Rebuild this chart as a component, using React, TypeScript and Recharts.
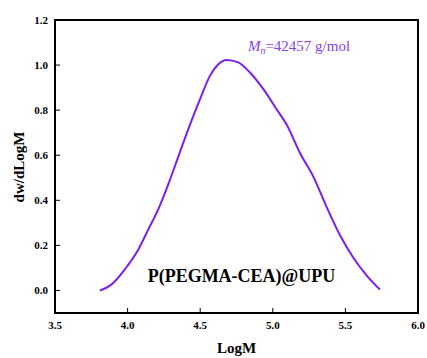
import { LineChart, Line, XAxis, YAxis, ReferenceLine } from "recharts";

// GPC molecular weight distribution
const LOG_M = [
  3.81, 3.89, 3.98, 4.074, 4.143, 4.211, 4.28, 4.35, 4.418, 4.499, 4.567,
  4.625, 4.682, 4.762, 4.843, 4.935, 5.026, 5.096, 5.187, 5.279, 5.371, 5.463,
  5.555, 5.647, 5.738,
];
const DW = [
  0.0, 0.027, 0.093, 0.182, 0.271, 0.36, 0.471, 0.595, 0.716, 0.849, 0.952,
  1.004, 1.023, 1.012, 0.967, 0.893, 0.804, 0.735, 0.61, 0.505, 0.37, 0.245,
  0.145, 0.066, 0.004,
];
const X_TICKS = [3.5, 4.0, 4.5, 5.0, 5.5, 6.0];
const Y_TICKS = [0.0, 0.2, 0.4, 0.6, 0.8, 1.0, 1.2];

const FONT = "'Liberation Serif', 'Times New Roman', serif";
const LINE_COLOR = "#7a1ff0";
const TEXT_PURPLE = "#8a3fe8";

const data = LOG_M.map((x, i) => ({ x, y: DW[i] }));

// kept at module level so their identity never changes between renders
const TICK_STYLE = { fontSize: 11, fill: "#000", fontWeight: "bold", fontFamily: FONT };
const oneDecimal = (v: number) => v.toFixed(1);

// plot box, matches the chart margins / axis sizes below
const PLOT = { left: 55, top: 20, right: 418, bottom: 313 };

export default function App() {
  return (
    <div
      style={{ position: "absolute", left: 0, top: 0, width: 427, height: 358, background: "#fff" }}
    >
      <LineChart
        width={427}
        height={358}
        data={data}
        margin={{ top: 20, right: 9, left: 0, bottom: 0 }}
      >
        <XAxis
          dataKey="x"
          type="number"
          domain={[3.5, 6.0]}
          ticks={X_TICKS}
          tickFormatter={oneDecimal}
          tick={TICK_STYLE}
          tickSize={-5}
          tickMargin={13}
          height={45}
          stroke="#000"
        />
        <YAxis
          type="number"
          domain={[-0.1, 1.2]}
          ticks={Y_TICKS}
          tickFormatter={oneDecimal}
          tick={TICK_STYLE}
          tickSize={-5}
          tickMargin={12}
          width={55}
          stroke="#000"
        />
        <ReferenceLine y={1.2} stroke="#000" strokeWidth={2} />
        <ReferenceLine x={6.0} stroke="#000" strokeWidth={2} />
        <ReferenceLine y={-0.1} stroke="#000" strokeWidth={2} />
        <ReferenceLine x={3.5} stroke="#000" strokeWidth={2} />
        <Line
          type="monotone"
          dataKey="y"
          stroke={LINE_COLOR}
          strokeWidth={2}
          dot={false}
          isAnimationActive={false}
        />
      </LineChart>
      {/* frame, axis titles and annotations */}
      <svg
        width={427}
        height={358}
        style={{ position: "absolute", left: 0, top: 0, pointerEvents: "none" }}
      >
        <rect
          x={PLOT.left}
          y={PLOT.top}
          width={PLOT.right - PLOT.left}
          height={PLOT.bottom - PLOT.top}
          fill="none"
          stroke="#000"
          strokeWidth={2}
        />
        <text x={299} y={51} textAnchor="middle" fill={TEXT_PURPLE} fontFamily={FONT} fontSize={15}>
          <tspan fontStyle="italic">M</tspan>
          <tspan fontStyle="italic" fontSize={10} dy={3}>
            n
          </tspan>
          <tspan dy={-3}>=42457 g/mol</tspan>
        </text>
        <text
          x={241.5}
          y={282}
          textAnchor="middle"
          fill="#000"
          fontFamily={FONT}
          fontWeight="bold"
          fontSize={18}
        >
          P(PEGMA-CEA)@UPU
        </text>
        <text
          x={236.5}
          y={353}
          textAnchor="middle"
          fill="#000"
          fontFamily={FONT}
          fontWeight="bold"
          fontSize={15}
        >
          LogM
        </text>
        <text
          x={24}
          y={167}
          transform="rotate(-90, 24, 167)"
          textAnchor="middle"
          fill="#000"
          fontFamily={FONT}
          fontWeight="bold"
          fontSize={15}
        >
          dw/dLogM
        </text>
      </svg>
    </div>
  );
}
